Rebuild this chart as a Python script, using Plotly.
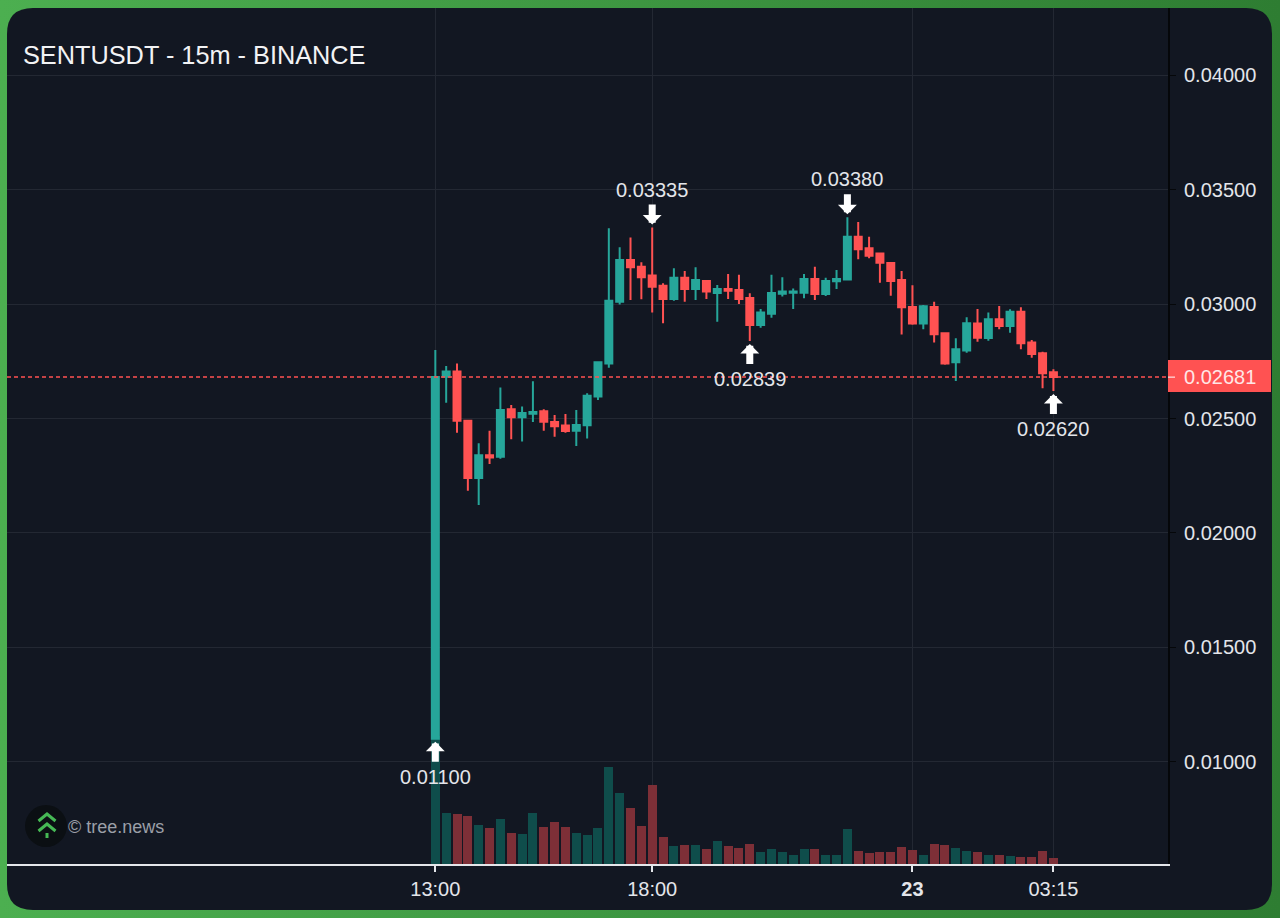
import pandas as pd
import plotly.graph_objects as go

# 15m bars, first one at 13:00
times = pd.date_range("2026-01-22 13:00", periods=58, freq="15min")

opens = [0.01100, 0.02683, 0.02706, 0.02490, 0.02240, 0.02339, 0.02333, 0.02540, 0.02505, 0.02521,
         0.02532, 0.02485, 0.02469, 0.02447, 0.02470, 0.02596, 0.02741, 0.03010, 0.03193, 0.03164,
         0.03125, 0.03081, 0.03023, 0.03116, 0.03066, 0.03101, 0.03049, 0.03066, 0.03062, 0.03027,
         0.02909, 0.02958, 0.03046, 0.03050, 0.03050, 0.03110, 0.03044, 0.03100, 0.03108, 0.03295,
         0.03244, 0.03221, 0.03180, 0.03106, 0.02988, 0.02915, 0.02988, 0.02873, 0.02746, 0.02797,
         0.02915, 0.02852, 0.02934, 0.02905, 0.02967, 0.02832, 0.02785, 0.02702]
highs = [0.02800, 0.02730, 0.02741, 0.02495, 0.02392, 0.02447, 0.02636, 0.02559, 0.02552, 0.02663,
         0.02540, 0.02515, 0.02520, 0.02537, 0.02610, 0.02746, 0.03332, 0.03249, 0.03292, 0.03183,
         0.03335, 0.03091, 0.03157, 0.03145, 0.03161, 0.03106, 0.03084, 0.03132, 0.03129, 0.03048,
         0.02979, 0.03129, 0.03118, 0.03069, 0.03132, 0.03164, 0.03116, 0.03149, 0.03380, 0.03359,
         0.03295, 0.03225, 0.03180, 0.03145, 0.03083, 0.02996, 0.03011, 0.02875, 0.02851, 0.02943,
         0.02979, 0.02963, 0.02992, 0.02978, 0.02986, 0.02843, 0.02792, 0.02715]
lows = [0.01100, 0.02569, 0.02438, 0.02184, 0.02122, 0.02301, 0.02324, 0.02409, 0.02399, 0.02485,
        0.02447, 0.02420, 0.02438, 0.02380, 0.02413, 0.02581, 0.02722, 0.02999, 0.03018, 0.03021,
        0.02963, 0.02916, 0.03015, 0.03011, 0.03018, 0.03023, 0.02923, 0.03023, 0.03001, 0.02839,
        0.02897, 0.02941, 0.03033, 0.02979, 0.03026, 0.03018, 0.03036, 0.03066, 0.03103, 0.03196,
        0.03201, 0.03094, 0.03037, 0.02867, 0.02910, 0.02890, 0.02832, 0.02735, 0.02664, 0.02788,
        0.02836, 0.02840, 0.02890, 0.02875, 0.02803, 0.02766, 0.02632, 0.02620]
closes = [0.02681, 0.02706, 0.02490, 0.02240, 0.02339, 0.02330, 0.02537, 0.02505, 0.02524, 0.02528,
          0.02486, 0.02466, 0.02445, 0.02472, 0.02600, 0.02746, 0.03015, 0.03193, 0.03161, 0.03118,
          0.03076, 0.03023, 0.03116, 0.03066, 0.03106, 0.03055, 0.03066, 0.03059, 0.03023, 0.02909,
          0.02964, 0.03049, 0.03055, 0.03055, 0.03110, 0.03044, 0.03101, 0.03110, 0.03295, 0.03240,
          0.03212, 0.03181, 0.03101, 0.02986, 0.02915, 0.02991, 0.02868, 0.02741, 0.02803, 0.02916,
          0.02853, 0.02934, 0.02905, 0.02967, 0.02829, 0.02782, 0.02698, 0.02681]
volumes = [128, 51, 50, 48, 39, 36, 45, 31, 30, 51,
           37, 42, 37, 31, 29, 36, 97, 71, 56, 38,
           79, 27, 18, 19, 19, 15, 23, 18, 16, 20,
           12, 15, 12, 9, 15, 15, 9, 9, 35, 13,
           11, 12, 12, 17, 14, 9, 20, 19, 16, 13,
           12, 9, 9, 8, 7, 7, 13, 6]

last_price = 0.02681
price_ticks = [0.01, 0.015, 0.02, 0.025, 0.03, 0.035, 0.04]
time_ticks = ["2026-01-22 13:00", "2026-01-22 18:00", "2026-01-23 00:00", "2026-01-23 03:15"]
time_labels = ["13:00", "18:00", "<b>23</b>", "03:15"]

# bar index, price
low_marks = [(0, 0.01100), (29, 0.02839), (57, 0.02620)]
high_marks = [(20, 0.03335), (38, 0.03380)]

UP = "#26a69a"
DOWN = "#ff5252"
UP_VOL = "#0f4d4b"
DOWN_VOL = "#7d2f37"
BG = "#121722"
GRID = "#232833"
TEXT = "#e3e5ea"
FONT = "Liberation Sans"

W, H = 1280, 918
L, R, T, B = 7, 112, 8, 54
PLOT_W = W - L - R
PLOT_H = H - T - B


def px(x):
    return (x - L) / PLOT_W


def py(y):
    return (H - B - y) / PLOT_H


def rounded_rect(x0, y0, x1, y1, r):
    pts = [
        f"M{px(x0 + r)},{py(y0)}", f"L{px(x1 - r)},{py(y0)}", f"Q{px(x1)},{py(y0)} {px(x1)},{py(y0 + r)}",
        f"L{px(x1)},{py(y1 - r)}", f"Q{px(x1)},{py(y1)} {px(x1 - r)},{py(y1)}",
        f"L{px(x0 + r)},{py(y1)}", f"Q{px(x0)},{py(y1)} {px(x0)},{py(y1 - r)}",
        f"L{px(x0)},{py(y0 + r)}", f"Q{px(x0)},{py(y0)} {px(x0 + r)},{py(y0)}", "Z",
    ]
    return " ".join(pts)


def polyline(points):
    return "M" + " L".join(f"{px(x)},{py(y)}" for x, y in points)


vol_colors = [UP_VOL if c >= o else DOWN_VOL for o, c in zip(opens, closes)]

fig = go.Figure()
fig.add_trace(go.Bar(
    x=times, y=volumes, yaxis="y", marker=dict(color=vol_colors, line_width=0),
    width=9 / 10.84 * 900000, hoverinfo="skip", showlegend=False,
))
fig.add_trace(go.Candlestick(
    x=times, open=opens, high=highs, low=lows, close=closes, yaxis="y2",
    increasing=dict(line=dict(color=UP, width=2), fillcolor=UP),
    decreasing=dict(line=dict(color=DOWN, width=2), fillcolor=DOWN),
    whiskerwidth=0, showlegend=False,
))

shapes = [
    # card
    dict(type="path", xref="paper", yref="paper", layer="below", line_width=0, fillcolor=BG,
         path=rounded_rect(7, 8, 1272, 910, 26)),
    # last price line and tag
    dict(type="line", xref="paper", yref="y2", x0=0, x1=1, y0=last_price, y1=last_price,
         line=dict(color=DOWN, width=1.5, dash="4px 3px")),
    dict(type="rect", xref="paper", yref="paper", line_width=0, fillcolor=DOWN,
         x0=px(1168), x1=px(1271), y0=py(392), y1=py(360)),
    dict(type="line", xref="paper", yref="y2", x0=px(1168), x1=px(1175), y0=last_price, y1=last_price,
         line=dict(color="#ffffff", width=1)),
    # logo
    dict(type="circle", xref="paper", yref="paper", line_width=0, fillcolor="#0b0f13",
         x0=px(25), x1=px(67), y0=py(847), y1=py(805)),
    dict(type="path", xref="paper", yref="paper", line=dict(color="#46b955", width=3),
         path=polyline([(38.5, 821), (47, 814), (55.5, 821)])),
    dict(type="path", xref="paper", yref="paper", line=dict(color="#46b955", width=3),
         path=polyline([(38.5, 831), (47, 824), (55.5, 831)])),
    dict(type="line", xref="paper", yref="paper", line=dict(color="#46b955", width=3),
         x0=px(47), x1=px(47), y0=py(838), y1=py(833)),
]

annotations = [
    dict(text="SENTUSDT - 15m - BINANCE", xref="paper", yref="paper", x=px(21), y=py(55),
         xanchor="left", yanchor="middle", showarrow=False, font=dict(size=25.3, color="#f2f3f5")),
    dict(text="© tree.news", xref="paper", yref="paper", x=px(66), y=py(827),
         xanchor="left", yanchor="middle", showarrow=False, font=dict(size=18, color="#9b9fa8")),
    dict(text=f"{last_price:.5f}", xref="paper", yref="y2", x=px(1182), y=last_price,
         xanchor="left", yanchor="middle", showarrow=False, font=dict(size=20, color="#ffe6e6")),
]


def mark(idx, price, side):
    # side is 1 below the candle, -1 above it
    annotations.append(dict(
        text=" ", x=times[idx], y=price, xref="x", yref="y2", ax=0, ay=side * 25, axref="pixel", ayref="pixel",
        showarrow=True, arrowhead=1, arrowwidth=7, arrowsize=0.45, arrowcolor="#ffffff",
        standoff=3, font=dict(size=1),
    ))
    annotations.append(dict(
        text=f"{price:.5f}", x=times[idx], y=price, xref="x", yref="y2", yshift=-side * 38,
        showarrow=False, yanchor="middle", font=dict(size=20, color=TEXT),
    ))


for idx, price in low_marks:
    mark(idx, price, 1)
for idx, price in high_marks:
    mark(idx, price, -1)

fig.update_layout(
    width=W, height=H, margin=dict(l=L, r=R, t=T, b=B),
    paper_bgcolor="rgba(0,0,0,0)", plot_bgcolor="rgba(0,0,0,0)",
    font=dict(family=FONT, color=TEXT, size=20),
    dragmode=False, bargap=0, boxgap=0.355, boxgroupgap=0, showlegend=False,
    shapes=shapes, annotations=annotations,
    xaxis=dict(
        type="date", range=["2026-01-22 03:07:30", "2026-01-23 05:53:30"],
        rangeslider=dict(visible=False),
        tickmode="array", tickvals=time_ticks, ticktext=time_labels, tickangle=0,
        showgrid=True, gridcolor=GRID, gridwidth=1, zeroline=False,
        showline=True, linecolor="#e4e6ea", linewidth=2,
        ticks="outside", ticklen=6, tickwidth=2, tickcolor="#e4e6ea",
    ),
    yaxis=dict(range=[0, PLOT_H], visible=False, fixedrange=True),
    yaxis2=dict(
        overlaying="y", side="right", range=[0.00552, 0.04295],
        tickmode="array", tickvals=price_ticks, ticktext=[f"{v:.5f}" for v in price_ticks],
        showgrid=True, gridcolor=GRID, gridwidth=1, zeroline=False,
        showline=True, linecolor="#05070a", linewidth=2,
        ticks="outside", ticklen=6, tickwidth=1, tickcolor="#05070a", ticklabelstandoff=4,
    ),
)

page_css = """
document.body.style.margin = '0';
document.body.style.background = 'linear-gradient(90deg, #4caf50, #2e7d32)';
"""
fig.write_html("out.html", post_script=page_css, config=dict(displayModeBar=False))
